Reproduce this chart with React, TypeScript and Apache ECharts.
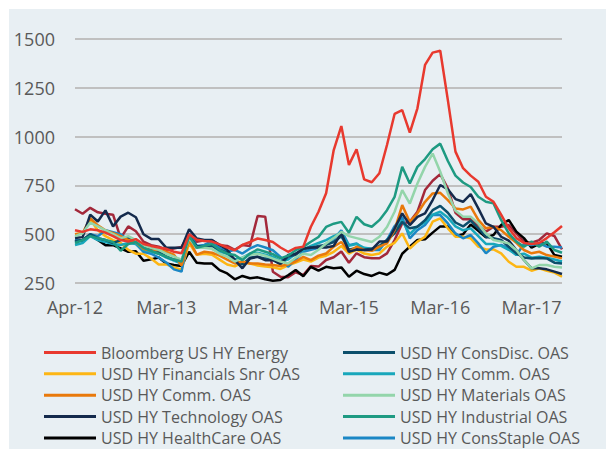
import React, { useEffect, useRef } from "react";
import * as echarts from "echarts";

const tickLabels = ["Apr-12", "Mar-13", "Mar-14", "Mar-15", "Mar-16", "Mar-17"];
const categories = Array.from({ length: 65 }, (_, i) => String(i));

const energy = [520, 512, 525, 520, 508, 490, 470, 462, 475, 450, 440, 432, 425, 410, 402, 500, 472, 465, 462, 448, 432, 418, 445, 460, 478, 470, 460, 432, 410, 430, 436, 538, 615, 710, 931, 1054, 855, 935, 781, 766, 812, 957, 1116, 1136, 1020, 1145, 1367, 1430, 1440, 1187, 923, 838, 800, 769, 692, 666, 600, 530, 480, 455, 450, 455, 480, 510, 542];
const burgundy = [628, 605, 635, 612, 605, 600, 480, 540, 515, 462, 444, 436, 420, 427, 435, 503, 461, 469, 469, 444, 440, 420, 445, 440, 593, 590, 308, 282, 280, 305, 291, 337, 334, 368, 382, 411, 354, 402, 382, 377, 377, 402, 470, 555, 564, 615, 726, 774, 808, 735, 610, 576, 576, 547, 513, 538, 538, 547, 504, 462, 456, 470, 504, 491, 422];
const technology = [480, 485, 600, 565, 622, 540, 590, 610, 587, 500, 476, 475, 430, 430, 430, 525, 478, 470, 470, 445, 420, 367, 325, 376, 384, 367, 367, 350, 393, 400, 427, 432, 432, 432, 440, 507, 410, 421, 419, 421, 462, 462, 529, 607, 547, 589, 607, 675, 752, 730, 680, 666, 705, 632, 555, 538, 487, 467, 419, 368, 325, 325, 320, 308, 296];
const consDisc = [465, 470, 500, 480, 470, 455, 470, 480, 470, 440, 425, 410, 385, 370, 360, 490, 440, 435, 440, 420, 405, 370, 345, 380, 385, 375, 370, 345, 385, 395, 425, 430, 440, 445, 460, 490, 420, 430, 420, 425, 440, 470, 504, 563, 530, 538, 572, 623, 645, 610, 560, 540, 570, 530, 487, 479, 470, 436, 402, 381, 376, 378, 376, 354, 350];
const commCyan = [445, 455, 490, 470, 460, 450, 445, 455, 450, 420, 410, 400, 380, 365, 350, 480, 430, 430, 445, 410, 400, 370, 380, 400, 405, 395, 385, 360, 370, 400, 420, 440, 455, 470, 490, 505, 440, 450, 430, 425, 430, 470, 520, 570, 500, 540, 560, 600, 615, 585, 540, 520, 530, 490, 450, 450, 440, 420, 395, 400, 380, 385, 380, 370, 360];
const commOrange = [500, 505, 582, 545, 520, 505, 490, 470, 460, 425, 415, 420, 410, 395, 340, 470, 395, 410, 405, 390, 370, 350, 360, 350, 350, 345, 342, 337, 345, 360, 384, 367, 390, 401, 436, 460, 410, 436, 419, 415, 436, 453, 521, 649, 563, 607, 666, 709, 712, 675, 632, 627, 641, 573, 530, 538, 521, 487, 456, 419, 402, 410, 393, 385, 376];
const financials = [500, 505, 575, 520, 490, 470, 455, 420, 400, 400, 375, 345, 345, 330, 318, 455, 395, 400, 395, 370, 345, 335, 355, 350, 340, 335, 330, 322, 340, 355, 370, 360, 380, 390, 410, 440, 401, 421, 401, 393, 401, 436, 456, 504, 427, 462, 487, 564, 581, 530, 487, 487, 479, 436, 422, 422, 402, 359, 333, 333, 313, 325, 313, 303, 282];
const materials = [490, 505, 560, 540, 520, 500, 480, 490, 470, 440, 430, 420, 400, 385, 370, 480, 430, 430, 425, 400, 385, 360, 380, 395, 400, 390, 375, 360, 350, 380, 400, 393, 420, 452, 480, 512, 490, 480, 470, 460, 487, 537, 615, 726, 657, 760, 845, 913, 820, 709, 620, 590, 590, 555, 504, 470, 462, 453, 419, 368, 325, 342, 342, 333, 330];
const industrial = [455, 470, 490, 480, 470, 460, 415, 450, 460, 430, 415, 400, 385, 370, 360, 490, 430, 440, 450, 420, 400, 393, 367, 401, 422, 410, 398, 376, 390, 418, 435, 461, 486, 537, 554, 563, 507, 589, 551, 538, 572, 623, 691, 845, 760, 845, 885, 935, 964, 875, 800, 765, 742, 692, 666, 658, 573, 504, 462, 436, 462, 436, 462, 419, 405];
const consStaple = [470, 465, 500, 490, 520, 510, 500, 470, 450, 410, 400, 380, 355, 320, 308, 503, 440, 445, 465, 430, 410, 420, 401, 427, 444, 432, 418, 384, 333, 370, 410, 420, 430, 450, 475, 520, 444, 453, 419, 419, 419, 470, 541, 589, 479, 521, 547, 598, 598, 555, 504, 479, 496, 453, 402, 436, 445, 427, 393, 450, 445, 453, 436, 436, 432];
const healthCare = [461, 470, 495, 470, 444, 444, 427, 410, 413, 364, 371, 381, 350, 342, 337, 410, 354, 350, 350, 316, 299, 269, 286, 274, 279, 269, 262, 265, 290, 317, 285, 333, 313, 333, 326, 330, 282, 313, 296, 286, 303, 292, 317, 400, 436, 470, 474, 508, 540, 540, 490, 500, 550, 518, 484, 496, 547, 573, 513, 480, 431, 450, 455, 393, 385];

const seriesDefs = [
  { name: "", data: burgundy, color: "#a3283a" },
  { name: "USD HY HealthCare OAS", data: healthCare, color: "#000000" },
  { name: "USD HY Financials Snr OAS", data: financials, color: "#fdb614" },
  { name: "USD HY ConsStaple OAS", data: consStaple, color: "#1b87c5" },
  { name: "USD HY Comm. OAS ", data: commCyan, color: "#18a7bb" },
  { name: "USD HY ConsDisc. OAS", data: consDisc, color: "#0c4f6b" },
  { name: "USD HY Comm. OAS", data: commOrange, color: "#e9790b" },
  { name: "USD HY Technology OAS", data: technology, color: "#142a4c" },
  { name: "USD HY Materials OAS", data: materials, color: "#93d5aa" },
  { name: "USD HY Industrial OAS", data: industrial, color: "#1e9a82" },
  { name: "Bloomberg US HY Energy", data: energy, color: "#e8392e" },
];

const legendCol1 = ["Bloomberg US HY Energy", "USD HY Financials Snr OAS", "USD HY Comm. OAS", "USD HY Technology OAS", "USD HY HealthCare OAS"];
const legendCol2 = ["USD HY ConsDisc. OAS", "USD HY Comm. OAS ", "USD HY Materials OAS", "USD HY Industrial OAS", "USD HY ConsStaple OAS"];

const FONT = "'Open Sans', sans-serif";
const ROW_TOP = 342.5;
const ROW_STEP = 21.35;

export default function App() {
  const ref = useRef<HTMLDivElement>(null);
  useEffect(() => {
    if (!ref.current) return;
    const chart = echarts.init(ref.current, undefined, { renderer: "svg" });
    const legendBase = {
      orient: "horizontal",
      padding: 0,
      itemWidth: 52,
      itemHeight: 3,
      icon: "rect",
      selectedMode: false,
      formatter: (n: string) => n.trim(),
      textStyle: { fontSize: 16, color: "#595959", fontFamily: FONT, lineHeight: 20 },
    };
    const legends: any[] = [];
    [legendCol1, legendCol2].forEach((col, c) => {
      col.forEach((name, r) => {
        legends.push({
          ...legendBase,
          left: c === 0 ? 44 : 343,
          top: ROW_TOP + r * ROW_STEP,
          data: [name],
        });
      });
    });
    chart.setOption({
      animation: false,
      backgroundColor: "#ffffff",
      graphic: [
        {
          type: "rect",
          z: -100,
          silent: true,
          shape: { x: 9, y: 9, width: 597, height: 440 },
          style: { fill: "#e8eff3" },
        },
      ],
      grid: { left: 75, top: 39, width: 487, height: 244 },
      legend: legends,
      xAxis: {
        type: "category",
        data: categories,
        boundaryGap: false,
        axisLine: { show: false },
        axisTick: { show: false },
        axisLabel: {
          interval: (idx: number) => idx % 12 === 0,
          margin: 15,
          fontSize: 18,
          color: "#595959",
          fontFamily: FONT,
          formatter: (_v: string, idx: number) => tickLabels[idx / 12] ?? "",
        },
      },
      yAxis: {
        type: "value",
        min: 250,
        max: 1500,
        interval: 250,
        axisLine: { show: false },
        axisTick: { show: false },
        splitLine: { lineStyle: { color: "#c0c0c0", width: 2 } },
        axisLabel: {
          margin: 20,
          fontSize: 18,
          color: "#595959",
          fontFamily: FONT,
          formatter: (v: number) => String(v),
        },
      },
      series: seriesDefs.map((s) => ({
        name: s.name,
        type: "line",
        data: s.data,
        showSymbol: false,
        symbol: "none",
        itemStyle: { color: s.color },
        lineStyle: { color: s.color, width: 2.5 },
      })),
    });
    return () => chart.dispose();
  }, []);
  return (
    <div
      ref={ref}
      style={{ position: "absolute", left: 0, top: 0, width: 606, height: 449 }}
    />
  );
}
